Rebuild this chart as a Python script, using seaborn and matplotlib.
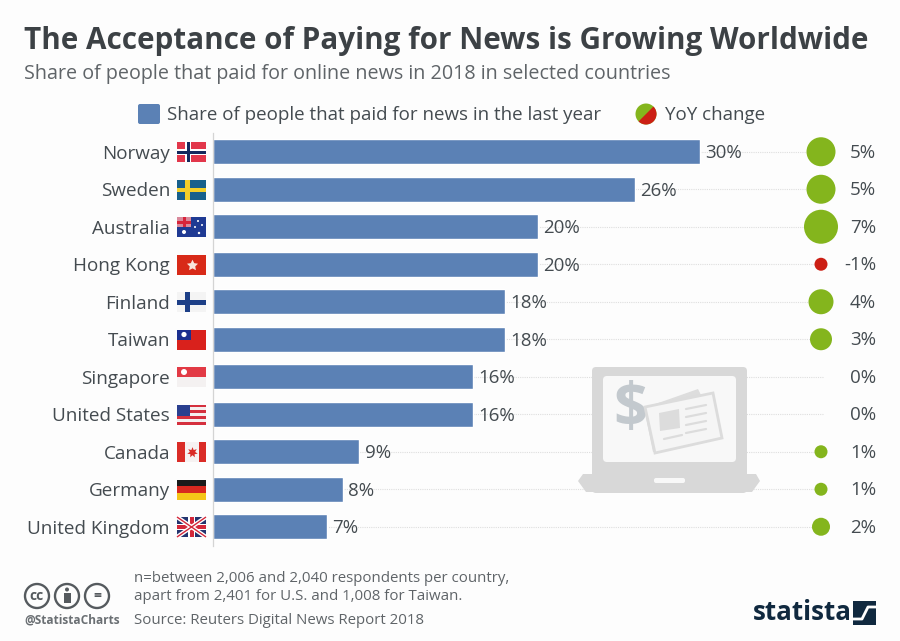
import pandas as pd
import numpy as np
import matplotlib.pyplot as plt
from matplotlib.patches import Rectangle, Circle, Wedge, Polygon, FancyBboxPatch
import seaborn as sns

countries = ["Norway", "Sweden", "Australia", "Hong Kong", "Finland", "Taiwan",
             "Singapore", "United States", "Canada", "Germany", "United Kingdom"]
share = [30, 26, 20, 20, 18, 18, 16, 16, 9, 8, 7]
yoy = [5, 5, 7, -1, 4, 3, 0, 0, 1, 1, 2]
yoy_diam_px = {1: 13, 2: 18, 3: 22, 4: 25, 5: 29, 7: 34}

BG = "#fdfdfd"
BAR = "#5b81b5"
TXT = "#444b50"
GREY = "#5f6468"
GREEN = "#84b51d"
RED = "#cc1f14"
W, H = 900, 641
PX_PCT = 16.23  # px per percent point
X0, X1, Y0, Y1 = 213, 885, 133, 545.5


def px(x):
    return (x - X0) / PX_PCT


sns.set_theme(style="white")
plt.rcParams["font.family"] = ["Open Sans", "DejaVu Sans"]

df = pd.DataFrame({"country": countries, "share": share, "yoy": yoy})
df["row"] = range(len(df))
df["size"] = df["yoy"].abs()
df["up"] = df["yoy"] > 0

fig = plt.figure(figsize=(W / 100, H / 100), dpi=100, facecolor=BG)
ax = fig.add_axes([X0 / W, 1 - Y1 / H, (X1 - X0) / W, (Y1 - Y0) / H], facecolor="none")

ax.hlines(df["row"], 0, px(823), color="#dedede", lw=0.8, ls=(0, (1, 1)), zorder=0)
sns.barplot(data=df, x="share", y="country", orient="h", color=BAR, width=0.667,
            saturation=1, ax=ax, zorder=2)
bar_texts = ax.bar_label(ax.containers[0], labels=[f"{v}%" for v in share], padding=4,
                         fontsize=13.5, color=TXT)
for t in bar_texts:
    t.xyann = (t.xyann[0], -1)

moved = df[df["yoy"] != 0].assign(xpos=px(821))
sns.scatterplot(data=moved, x="xpos", y="row", size="size", hue="up",
                sizes={k: (d * 0.72) ** 2 for k, d in yoy_diam_px.items()},
                palette={True: GREEN, False: RED}, linewidth=0, legend=False,
                ax=ax, zorder=3, clip_on=False)
for i, v in enumerate(yoy):
    ax.text(px(876), i + 0.03, f"{v}%", ha="right", va="center", fontsize=13.5, color=TXT)

ax.set_xlim(0, (X1 - X0) / PX_PCT)
ax.set_ylim(10.5, -0.5)
ax.set_xticks([])
ax.set_xlabel("")
ax.set_ylabel("")
ax.tick_params(axis="y", length=0, pad=31, labelsize=13.6, labelcolor=TXT)
for s in ["top", "right", "bottom"]:
    ax.spines[s].set_visible(False)
ax.spines["left"].set_color("#d4d4d4")
ax.spines["left"].set_linewidth(0.9)

# overlay in pixel coordinates for header, flags, icon, footer
ov = fig.add_axes([0, 0, 1, 1], facecolor="none")
ov.set_xlim(0, W)
ov.set_ylim(H, 0)
ov.axis("off")

ov.text(24, 41, "The Acceptance of Paying for News is Growing Worldwide", fontsize=21.3,
        fontweight="bold", color="#3c4145", va="center")
ov.text(24, 73.5, "Share of people that paid for online news in 2018 in selected countries",
        fontsize=14.2, color=GREY, va="center")

ov.add_patch(FancyBboxPatch((139, 105), 20, 18, boxstyle="round,pad=1,rounding_size=2", fc=BAR, ec="none"))
ov.text(167, 115.5, "Share of people that paid for news in the last year", fontsize=13.5,
        color=TXT, va="center")
ov.add_patch(Circle((646, 114), 10.5, fc=GREEN, ec="none"))
ov.add_patch(Wedge((646, 114), 10.5, -45, 135, fc=RED, ec="none"))
ov.text(665, 115.5, "YoY change", fontsize=13.5, color=TXT, va="center")


def rect(x, y, w, h, c, **kw):
    ov.add_patch(Rectangle((x, y), w, h, fc=c, ec="none", **kw))


def flag(name, cy):
    x, y, w, h = 177, cy - 10, 29, 20
    if name == "Norway":
        rect(x, y, w, h, "#e2374b")
        rect(x + 8, y, 6, h, "white")
        rect(x, y + 7, w, 6, "white")
        rect(x + 9.5, y, 3, h, "#14295e")
        rect(x, y + 8.5, w, 3, "#14295e")
    elif name == "Sweden":
        rect(x, y, w, h, "#17608c")
        rect(x + 8, y, 4.5, h, "#f2cf2a")
        rect(x, y + 8, w, 4.5, "#f2cf2a")
    elif name == "Australia":
        rect(x, y, w, h, "#1f3a93")
        rect(x, y, 14, 10, "#d98a9c")
        rect(x + 5.5, y, 3, 10, "#d8243a")
        rect(x, y + 3.5, 14, 3, "#d8243a")
        for sx, sy, r in [(x + 7, y + 15, 2), (x + 21, y + 4, 1), (x + 25, y + 8, 1),
                          (x + 18, y + 10, 1), (x + 22, y + 16, 1.2)]:
            ov.add_patch(Circle((sx, sy), r, fc="white", ec="none"))
    elif name == "Hong Kong":
        rect(x, y, w, h, "#d82a18")
        ov.scatter([x + 14.5], [cy], marker=(5, 1), s=70, c="#f9e6dd", linewidths=0)
    elif name == "Finland":
        rect(x, y, w, h, "#f4f4f4")
        rect(x + 8, y, 5, h, "#1d3f87")
        rect(x, y + 7.5, w, 5, "#1d3f87")
    elif name == "Taiwan":
        rect(x, y, w, h, "#d9211c")
        rect(x, y, 14, 10, "#1b2f8f")
        ov.add_patch(Circle((x + 7, y + 5), 2.6, fc="white", ec="none"))
    elif name == "Singapore":
        rect(x, y, w, h, "#f4f1f1")
        rect(x, y, w, 10, "#e23a45")
        ov.add_patch(Circle((x + 7, y + 5), 3, fc="white", ec="none"))
    elif name == "United States":
        rect(x, y, w, h, "#f4f0f0")
        for k in range(0, 7, 2):
            rect(x, y + k * 20 / 7, w, 20 / 7, "#d5303e")
        rect(x, y, 13, 11, "#2a3f8f")
    elif name == "Canada":
        rect(x, y, w, h, "#f6f2f2")
        rect(x, y, 7.5, h, "#da2c27")
        rect(x + w - 7.5, y, 7.5, h, "#da2c27")
        ov.scatter([x + 14.5], [cy], marker=(7, 1), s=60, c="#da2c27", linewidths=0)
    elif name == "Germany":
        rect(x, y, w, 6.7, "#1a1a1a")
        rect(x, y + 6.7, w, 6.7, "#d8281f")
        rect(x, y + 13.4, w, 6.6, "#f5c518")
    elif name == "United Kingdom":
        rect(x, y, w, h, "#24346f")
        ov.plot([x, x + w], [y, y + h], color="white", lw=3, solid_capstyle="butt")
        ov.plot([x, x + w], [y + h, y], color="white", lw=3, solid_capstyle="butt")
        ov.plot([x, x + w], [y, y + h], color="#d3273a", lw=1, solid_capstyle="butt")
        ov.plot([x, x + w], [y + h, y], color="#d3273a", lw=1, solid_capstyle="butt")
        rect(x + 11, y, 7, h, "white")
        rect(x, y + 7, w, 6, "white")
        rect(x + 12.5, y, 4, h, "#d3273a")
        rect(x, y + 8, w, 4, "#d3273a")


for i, c in enumerate(countries):
    flag(c, 152 + 37.5 * i)

# laptop icon
LAP = "#d8d8d8"
ov.add_patch(FancyBboxPatch((592, 367), 155, 126, boxstyle="round,pad=0,rounding_size=4", fc=LAP, ec="none", zorder=4))
ov.add_patch(Polygon([(583, 474), (756, 474), (760, 481), (752, 492), (586, 492), (578, 481)], fc=LAP, ec="none", zorder=4))
ov.add_patch(FancyBboxPatch((603, 376), 133, 86, boxstyle="round,pad=0,rounding_size=4", fc="#f8f8f8", ec="none", zorder=5))
ov.add_patch(FancyBboxPatch((654, 478), 31, 5, boxstyle="round,pad=0,rounding_size=2", fc="#f8f8f8", ec="none", zorder=5))
ov.add_patch(Polygon([(644, 408), (698, 389), (722, 437), (653, 452)], fc="#dddddd", ec="none", zorder=6))
ov.add_patch(Polygon([(645, 407), (713, 393), (722, 438), (655, 453)], fc="#f5f5f5", ec="#dcdcdc", lw=2, zorder=7))
ov.add_patch(Polygon([(659, 413), (679, 409), (680, 428), (660, 431)], fc="#dcdcdc", ec="none", zorder=8))
for yy in [409, 417, 425, 433]:
    ov.plot([686, 706], [yy, yy - 4], color="#dcdcdc", lw=1.6, zorder=8)
ov.plot([664, 682], [439, 435], color="#dcdcdc", lw=1.6, zorder=8)
ov.text(630, 411, "$", fontsize=43, fontweight="bold", color="#c3c9ce", ha="center", va="center", zorder=6.5)

# footer
for cx, label in [(37, "cc"), (67, ""), (97, "=")]:
    ov.add_patch(Circle((cx, 596), 12, fc="none", ec="#555a5e", lw=1.7))
    if label:
        ov.text(cx, 596, label, fontsize=10, fontweight="bold", color="#555a5e", ha="center", va="center")
ov.add_patch(Circle((67, 589.5), 2, fc="#555a5e", ec="none"))
rect(63.5, 592.5, 7, 10, "#555a5e")
ov.text(24, 620, "@StatistaCharts", fontsize=8.6, fontweight="bold", color="#6a6f73", va="center")
ov.text(134, 578.5, "n=between 2,006 and 2,040 respondents per country,", fontsize=10.8, color=GREY, va="center")
ov.text(134, 596.5, "apart from 2,401 for U.S. and 1,008 for Taiwan.", fontsize=10.8, color=GREY, va="center")
ov.text(134, 620, "Source: Reuters Digital News Report 2018", fontsize=10.8, color=GREY, va="center")

ov.text(753, 613, "statista", fontsize=18.6, fontweight="bold", color="#10293f", va="center")
rect(853, 601, 23, 24, "#10293f")
ov.plot([853, 862, 868, 876], [619, 619, 607, 607], color="white", lw=2)

fig.savefig("out.png", dpi=100, facecolor=BG)
